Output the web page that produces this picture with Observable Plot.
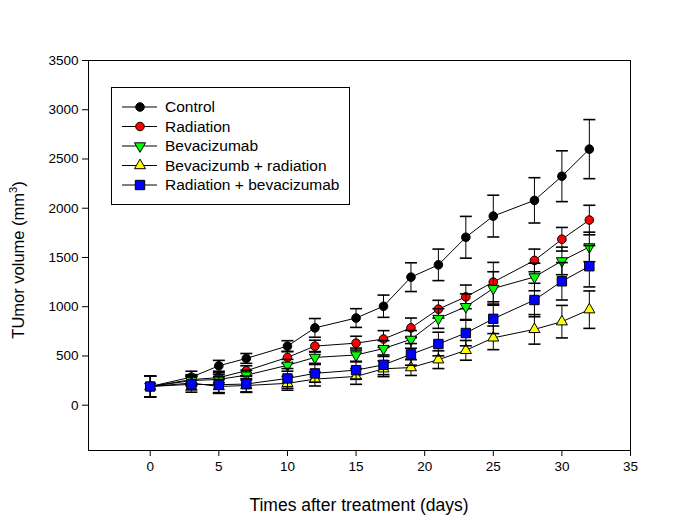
<!DOCTYPE html>
<html>
<head>
<meta charset="utf-8">
<script src="https://cdn.jsdelivr.net/npm/d3@7"></script>
<script src="https://cdn.jsdelivr.net/npm/@observablehq/plot@0.6"></script>
<style>
  html, body { margin: 0; padding: 0; background: #fff; }
  #chart { position: relative; width: 684px; height: 519px; }
  #chart svg { position: absolute; left: 0; top: 0; }
</style>
</head>
<body>
<div id="chart"></div>
<script>
const days = [0, 3, 5, 7, 10, 12, 15, 17, 19, 21, 23, 25, 28, 30, 32];
const seriesNames = ["Control", "Radiation", "Bevacizumab", "Bevacizumb + radiation", "Radiation + bevacizumab"];
const control      = [190, 285, 400, 475, 600, 785, 885, 1005, 1300, 1425, 1705, 1920, 2080, 2325, 2600];
const controlErr   = [105, 60, 55, 50, 55, 95, 95, 113, 146, 160, 212, 212, 230, 258, 300];
const radiation    = [190, 260, 280, 350, 485, 600, 630, 672, 785, 975, 1100, 1250, 1470, 1685, 1880];
const radiationErr = [105, 50, 50, 50, 60, 60, 70, 85, 100, 90, 120, 200, 115, 120, 150];
const bevacizumab  = [190, 250, 262, 305, 405, 485, 510, 575, 668, 880, 1000, 1185, 1302, 1465, 1607];
const bevacizumabErr = [105, 50, 50, 50, 60, 60, 70, 80, 90, 100, 130, 170, 140, 140, 150];
const bevRad       = [190, 225, 190, 200, 222, 265, 292, 370, 382, 462, 557, 684, 770, 848, 970];
const bevRadErr    = [105, 70, 70, 70, 70, 70, 80, 80, 80, 90, 100, 120, 150, 165, 190];
const radBev       = [190, 212, 208, 215, 272, 323, 356, 410, 516, 621, 733, 877, 1068, 1258, 1411];
const radBevErr    = [105, 80, 80, 80, 100, 90, 90, 100, 110, 120, 130, 150, 170, 190, 210];
const xTicks = [0, 5, 10, 15, 20, 25, 30, 35];
const yTicks = [0, 500, 1000, 1500, 2000, 2500, 3000, 3500];

const values = [control, radiation, bevacizumab, bevRad, radBev];
const errors = [controlErr, radiationErr, bevacizumabErr, bevRadErr, radBevErr];
const styles = [
  {symbol: "circle", fill: "black", r: 4.3, rotate: 0},
  {symbol: "circle", fill: "#ff0000", r: 4.3, rotate: 0},
  {symbol: "triangle", fill: "#00ff00", r: 4.1, rotate: 180},
  {symbol: "triangle", fill: "#ffff00", r: 4.1, rotate: 0},
  {symbol: "square", fill: "#0000ff", r: 5.3, rotate: 0}
];

const series = seriesNames.map((name, k) => days.map((t, i) => ({series: name, t, v: values[k][i], e: errors[k][i]})));
const allRows = series.flat();

const cap = {draw(ctx) { ctx.moveTo(-6, 0); ctx.lineTo(6, 0); }};
const FONT = "'Liberation Sans', Arial, sans-serif";

const marks = [
  Plot.frame({stroke: "black", strokeWidth: 1}),
  Plot.axisX({ticks: xTicks, tickSize: 6, tickPadding: 5, label: null, tickFormat: d => String(d)}),
  Plot.axisY({ticks: yTicks, tickSize: 6, tickPadding: 4, label: null, tickFormat: d => String(d)}),
  Plot.line(allRows, {x: "t", y: "v", z: "series", stroke: "black", strokeWidth: 1})
];
series.forEach((rows, k) => {
  const s = styles[k];
  marks.push(
    Plot.ruleX(rows, {x: "t", y1: d => d.v - d.e, y2: d => d.v + d.e, stroke: "black", strokeWidth: 1}),
    Plot.dot(rows, {x: "t", y: d => d.v + d.e, symbol: cap, stroke: "black", strokeWidth: 1.6, fill: "none"}),
    Plot.dot(rows, {x: "t", y: d => d.v - d.e, symbol: cap, stroke: "black", strokeWidth: 1.6, fill: "none"}),
    Plot.dot(rows, {x: "t", y: "v", symbol: s.symbol, r: s.r, rotate: s.rotate, fill: s.fill, stroke: "black", strokeWidth: 1})
  );
});

const plot = Plot.plot({
  width: 684, height: 519,
  marginLeft: 88, marginRight: 54, marginTop: 60, marginBottom: 69,
  x: {domain: [-4.5, 35]},
  y: {domain: [-460, 3500]},
  style: {fontFamily: FONT, fontSize: "13.5px", color: "black", background: "white"},
  marks
});
document.getElementById("chart").appendChild(plot);

const svg = d3.select(plot);
// axis titles
svg.append("text")
  .attr("x", 359).attr("y", 511)
  .attr("text-anchor", "middle")
  .attr("font-size", 17.5).attr("fill", "black")
  .attr("font-family", FONT)
  .text("Times after treatment (days)");
const yt = svg.append("text")
  .attr("transform", "translate(24,260) rotate(-90)")
  .attr("text-anchor", "middle")
  .attr("font-size", 16.5).attr("fill", "black")
  .attr("font-family", FONT);
yt.append("tspan").text("TUmor volume (mm");
yt.append("tspan").attr("font-size", 11).attr("dy", -7).text("3");
yt.append("tspan").attr("dy", 7).text(")");

// legend
const lg = svg.append("g").attr("transform", "translate(111,87)");
lg.append("rect").attr("x", 0.5).attr("y", 0.5).attr("width", 238).attr("height", 117)
  .attr("fill", "white").attr("stroke", "black").attr("stroke-width", 1);
const symMap = {circle: d3.symbolCircle, triangle: d3.symbolTriangle, square: d3.symbolSquare};
seriesNames.forEach((name, k) => {
  const s = styles[k];
  const cy = 20 + k * 19.5;
  lg.append("line").attr("x1", 11).attr("x2", 46).attr("y1", cy).attr("y2", cy)
    .attr("stroke", "black").attr("stroke-width", 1);
  lg.append("path")
    .attr("d", d3.symbol(symMap[s.symbol], Math.PI * s.r * s.r)())
    .attr("transform", `translate(29,${cy}) rotate(${s.rotate})`)
    .attr("fill", s.fill).attr("stroke", "black").attr("stroke-width", 1);
  lg.append("text").attr("x", 54).attr("y", cy).attr("dy", "0.35em")
    .attr("text-anchor", "start")
    .attr("font-size", 15.5).attr("fill", "black")
    .attr("font-family", FONT)
    .text(name);
});
</script>
</body>
</html>
